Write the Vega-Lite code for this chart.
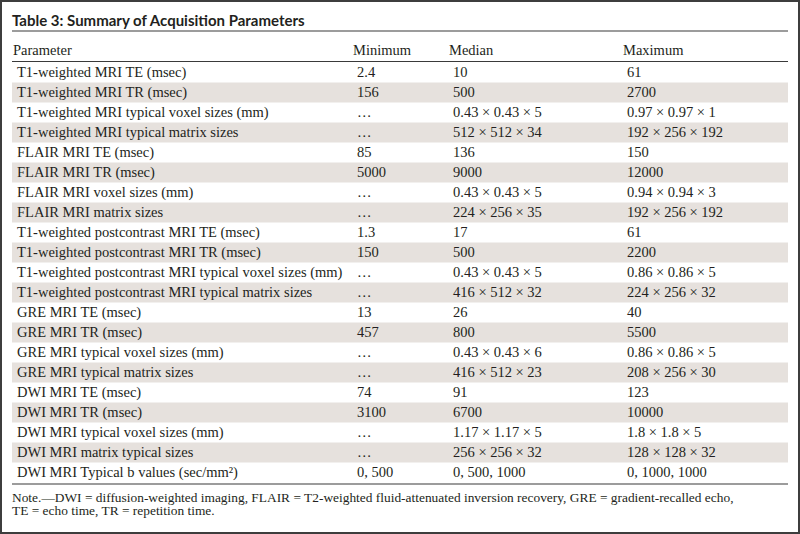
{
  "$schema": "https://vega.github.io/schema/vega-lite/v6.json",
  "width": 800,
  "height": 534,
  "padding": 0,
  "autosize": {"type": "fit", "contains": "padding"},
  "background": "#ffffff",
  "config": {"view": {"stroke": "#3d3d3d", "strokeWidth": 4}},
  "datasets": {
    "rules": [{"r": -2}, {"r": 0}, {"r": 22}],
    "cells": [
      {"kind": "title", "r": -3, "c": 0, "t": "Table 3: Summary of Acquisition Parameters"},
      {"kind": "head", "r": -1, "c": 1, "t": "Parameter"},
      {"kind": "head", "r": -1, "c": 2, "t": "Minimum"},
      {"kind": "head", "r": -1, "c": 3, "t": "Median"},
      {"kind": "head", "r": -1, "c": 4, "t": "Maximum"},
      {"kind": "cell", "r": 1, "c": 1, "t": "T1-weighted MRI TE (msec)"},
      {"kind": "cell", "r": 1, "c": 2, "t": "2.4"},
      {"kind": "cell", "r": 1, "c": 3, "t": "10"},
      {"kind": "cell", "r": 1, "c": 4, "t": "61"},
      {"kind": "cell", "r": 2, "c": 1, "t": "T1-weighted MRI TR (msec)"},
      {"kind": "cell", "r": 2, "c": 2, "t": "156"},
      {"kind": "cell", "r": 2, "c": 3, "t": "500"},
      {"kind": "cell", "r": 2, "c": 4, "t": "2700"},
      {"kind": "cell", "r": 3, "c": 1, "t": "T1-weighted MRI typical voxel sizes (mm)"},
      {"kind": "cell", "r": 3, "c": 2, "t": "…"},
      {"kind": "cell", "r": 3, "c": 3, "t": "0.43 × 0.43 × 5"},
      {"kind": "cell", "r": 3, "c": 4, "t": "0.97 × 0.97 × 1"},
      {"kind": "cell", "r": 4, "c": 1, "t": "T1-weighted MRI typical matrix sizes"},
      {"kind": "cell", "r": 4, "c": 2, "t": "…"},
      {"kind": "cell", "r": 4, "c": 3, "t": "512 × 512 × 34"},
      {"kind": "cell", "r": 4, "c": 4, "t": "192 × 256 × 192"},
      {"kind": "cell", "r": 5, "c": 1, "t": "FLAIR MRI TE (msec)"},
      {"kind": "cell", "r": 5, "c": 2, "t": "85"},
      {"kind": "cell", "r": 5, "c": 3, "t": "136"},
      {"kind": "cell", "r": 5, "c": 4, "t": "150"},
      {"kind": "cell", "r": 6, "c": 1, "t": "FLAIR MRI TR (msec)"},
      {"kind": "cell", "r": 6, "c": 2, "t": "5000"},
      {"kind": "cell", "r": 6, "c": 3, "t": "9000"},
      {"kind": "cell", "r": 6, "c": 4, "t": "12000"},
      {"kind": "cell", "r": 7, "c": 1, "t": "FLAIR MRI voxel sizes (mm)"},
      {"kind": "cell", "r": 7, "c": 2, "t": "…"},
      {"kind": "cell", "r": 7, "c": 3, "t": "0.43 × 0.43 × 5"},
      {"kind": "cell", "r": 7, "c": 4, "t": "0.94 × 0.94 × 3"},
      {"kind": "cell", "r": 8, "c": 1, "t": "FLAIR MRI matrix sizes"},
      {"kind": "cell", "r": 8, "c": 2, "t": "…"},
      {"kind": "cell", "r": 8, "c": 3, "t": "224 × 256 × 35"},
      {"kind": "cell", "r": 8, "c": 4, "t": "192 × 256 × 192"},
      {"kind": "cell", "r": 9, "c": 1, "t": "T1-weighted postcontrast MRI TE (msec)"},
      {"kind": "cell", "r": 9, "c": 2, "t": "1.3"},
      {"kind": "cell", "r": 9, "c": 3, "t": "17"},
      {"kind": "cell", "r": 9, "c": 4, "t": "61"},
      {"kind": "cell", "r": 10, "c": 1, "t": "T1-weighted postcontrast MRI TR (msec)"},
      {"kind": "cell", "r": 10, "c": 2, "t": "150"},
      {"kind": "cell", "r": 10, "c": 3, "t": "500"},
      {"kind": "cell", "r": 10, "c": 4, "t": "2200"},
      {"kind": "cell", "r": 11, "c": 1, "t": "T1-weighted postcontrast MRI typical voxel sizes (mm)"},
      {"kind": "cell", "r": 11, "c": 2, "t": "…"},
      {"kind": "cell", "r": 11, "c": 3, "t": "0.43 × 0.43 × 5"},
      {"kind": "cell", "r": 11, "c": 4, "t": "0.86 × 0.86 × 5"},
      {"kind": "cell", "r": 12, "c": 1, "t": "T1-weighted postcontrast MRI typical matrix sizes"},
      {"kind": "cell", "r": 12, "c": 2, "t": "…"},
      {"kind": "cell", "r": 12, "c": 3, "t": "416 × 512 × 32"},
      {"kind": "cell", "r": 12, "c": 4, "t": "224 × 256 × 32"},
      {"kind": "cell", "r": 13, "c": 1, "t": "GRE MRI TE (msec)"},
      {"kind": "cell", "r": 13, "c": 2, "t": "13"},
      {"kind": "cell", "r": 13, "c": 3, "t": "26"},
      {"kind": "cell", "r": 13, "c": 4, "t": "40"},
      {"kind": "cell", "r": 14, "c": 1, "t": "GRE MRI TR (msec)"},
      {"kind": "cell", "r": 14, "c": 2, "t": "457"},
      {"kind": "cell", "r": 14, "c": 3, "t": "800"},
      {"kind": "cell", "r": 14, "c": 4, "t": "5500"},
      {"kind": "cell", "r": 15, "c": 1, "t": "GRE MRI typical voxel sizes (mm)"},
      {"kind": "cell", "r": 15, "c": 2, "t": "…"},
      {"kind": "cell", "r": 15, "c": 3, "t": "0.43 × 0.43 × 6"},
      {"kind": "cell", "r": 15, "c": 4, "t": "0.86 × 0.86 × 5"},
      {"kind": "cell", "r": 16, "c": 1, "t": "GRE MRI typical matrix sizes"},
      {"kind": "cell", "r": 16, "c": 2, "t": "…"},
      {"kind": "cell", "r": 16, "c": 3, "t": "416 × 512 × 23"},
      {"kind": "cell", "r": 16, "c": 4, "t": "208 × 256 × 30"},
      {"kind": "cell", "r": 17, "c": 1, "t": "DWI MRI TE (msec)"},
      {"kind": "cell", "r": 17, "c": 2, "t": "74"},
      {"kind": "cell", "r": 17, "c": 3, "t": "91"},
      {"kind": "cell", "r": 17, "c": 4, "t": "123"},
      {"kind": "cell", "r": 18, "c": 1, "t": "DWI MRI TR (msec)"},
      {"kind": "cell", "r": 18, "c": 2, "t": "3100"},
      {"kind": "cell", "r": 18, "c": 3, "t": "6700"},
      {"kind": "cell", "r": 18, "c": 4, "t": "10000"},
      {"kind": "cell", "r": 19, "c": 1, "t": "DWI MRI typical voxel sizes (mm)"},
      {"kind": "cell", "r": 19, "c": 2, "t": "…"},
      {"kind": "cell", "r": 19, "c": 3, "t": "1.17 × 1.17 × 5"},
      {"kind": "cell", "r": 19, "c": 4, "t": "1.8 × 1.8 × 5"},
      {"kind": "cell", "r": 20, "c": 1, "t": "DWI MRI matrix typical sizes"},
      {"kind": "cell", "r": 20, "c": 2, "t": "…"},
      {"kind": "cell", "r": 20, "c": 3, "t": "256 × 256 × 32"},
      {"kind": "cell", "r": 20, "c": 4, "t": "128 × 128 × 32"},
      {"kind": "cell", "r": 21, "c": 1, "t": "DWI MRI Typical b values (sec/mm²)"},
      {"kind": "cell", "r": 21, "c": 2, "t": "0, 500"},
      {"kind": "cell", "r": 21, "c": 3, "t": "0, 500, 1000"},
      {"kind": "cell", "r": 21, "c": 4, "t": "0, 1000, 1000"},
      {"kind": "note", "r": 23, "c": 0, "t": "Note.—DWI = diffusion-weighted imaging, FLAIR = T2-weighted fluid-attenuated inversion recovery, GRE = gradient-recalled echo,"},
      {"kind": "note", "r": 24, "c": 0, "t": "TE = echo time, TR = repetition time."}
    ]
  },
  "layer": [
    {
      "data": {"name": "cells"},
      "transform": [{"filter": "datum.kind == 'cell' && datum.c == 1 && datum.r % 2 == 0"}],
      "mark": {"type": "bar", "orient": "horizontal", "size": 20, "color": "#e6e1dd"},
      "encoding": {
        "y": {"field": "r", "type": "quantitative", "axis": null, "scale": {"domain": [-3, -2, -1, 0, 1, 21, 22, 23, 24], "range": [18.5, 31, 50.5, 61.5, 72.5, 472.5, 484, 498, 515], "nice": false, "zero": false}},
        "x": {"datum": 0, "type": "quantitative", "axis": null, "scale": {"domain": [0, 1, 2, 3, 4, 5], "range": [12, 13, 353, 449, 623, 788], "nice": false, "zero": false}},
        "x2": {"datum": 5}
      }
    },
    {
      "data": {"name": "rules"},
      "mark": {"type": "rule", "color": "#3a3a3a", "strokeWidth": 1.2},
      "encoding": {
        "y": {"field": "r", "type": "quantitative", "axis": null, "scale": {"domain": [-3, -2, -1, 0, 1, 21, 22, 23, 24], "range": [18.5, 31, 50.5, 61.5, 72.5, 472.5, 484, 498, 515], "nice": false, "zero": false}},
        "x": {"datum": 0, "type": "quantitative", "axis": null, "scale": {"domain": [0, 1, 2, 3, 4, 5], "range": [12, 13, 353, 449, 623, 788], "nice": false, "zero": false}},
        "x2": {"datum": 5}
      }
    },
    {
      "data": {"name": "cells"},
      "transform": [{"filter": "datum.kind == 'title'"}],
      "mark": {"type": "text", "align": "left", "baseline": "middle", "font": "Lato", "fontWeight": "bold", "fontSize": 15, "color": "#231f20"},
      "encoding": {
        "y": {"field": "r", "type": "quantitative", "axis": null, "scale": {"domain": [-3, -2, -1, 0, 1, 21, 22, 23, 24], "range": [18.5, 31, 50.5, 61.5, 72.5, 472.5, 484, 498, 515], "nice": false, "zero": false}},
        "x": {"field": "c", "type": "quantitative", "axis": null, "scale": {"domain": [0, 1, 2, 3, 4, 5], "range": [12, 13, 353, 449, 623, 788], "nice": false, "zero": false}},
        "text": {"field": "t"}
      }
    },
    {
      "data": {"name": "cells"},
      "transform": [{"filter": "datum.kind == 'head'"}],
      "mark": {"type": "text", "align": "left", "baseline": "middle", "font": "Liberation Serif", "fontSize": 14.5, "color": "#231f20"},
      "encoding": {
        "y": {"field": "r", "type": "quantitative", "axis": null, "scale": {"domain": [-3, -2, -1, 0, 1, 21, 22, 23, 24], "range": [18.5, 31, 50.5, 61.5, 72.5, 472.5, 484, 498, 515], "nice": false, "zero": false}},
        "x": {"field": "c", "type": "quantitative", "axis": null, "scale": {"domain": [0, 1, 2, 3, 4, 5], "range": [12, 13, 353, 449, 623, 788], "nice": false, "zero": false}},
        "text": {"field": "t"}
      }
    },
    {
      "data": {"name": "cells"},
      "transform": [{"filter": "datum.kind == 'note'"}],
      "mark": {"type": "text", "align": "left", "baseline": "middle", "font": "Liberation Serif", "fontSize": 13.4, "color": "#231f20"},
      "encoding": {
        "y": {"field": "r", "type": "quantitative", "axis": null, "scale": {"domain": [-3, -2, -1, 0, 1, 21, 22, 23, 24], "range": [18.5, 31, 50.5, 61.5, 72.5, 472.5, 484, 498, 515], "nice": false, "zero": false}},
        "x": {"field": "c", "type": "quantitative", "axis": null, "scale": {"domain": [0, 1, 2, 3, 4, 5], "range": [12, 13, 353, 449, 623, 788], "nice": false, "zero": false}},
        "text": {"field": "t"}
      }
    },
    {
      "data": {"name": "cells"},
      "transform": [{"filter": "datum.kind == 'cell'"}],
      "mark": {"type": "text", "align": "left", "baseline": "middle", "dx": 4, "font": "Liberation Serif", "fontSize": 14.5, "color": "#231f20"},
      "encoding": {
        "y": {"field": "r", "type": "quantitative", "axis": null, "scale": {"domain": [-3, -2, -1, 0, 1, 21, 22, 23, 24], "range": [18.5, 31, 50.5, 61.5, 72.5, 472.5, 484, 498, 515], "nice": false, "zero": false}},
        "x": {"field": "c", "type": "quantitative", "axis": null, "scale": {"domain": [0, 1, 2, 3, 4, 5], "range": [12, 13, 353, 449, 623, 788], "nice": false, "zero": false}},
        "text": {"field": "t"}
      }
    }
  ]
}
